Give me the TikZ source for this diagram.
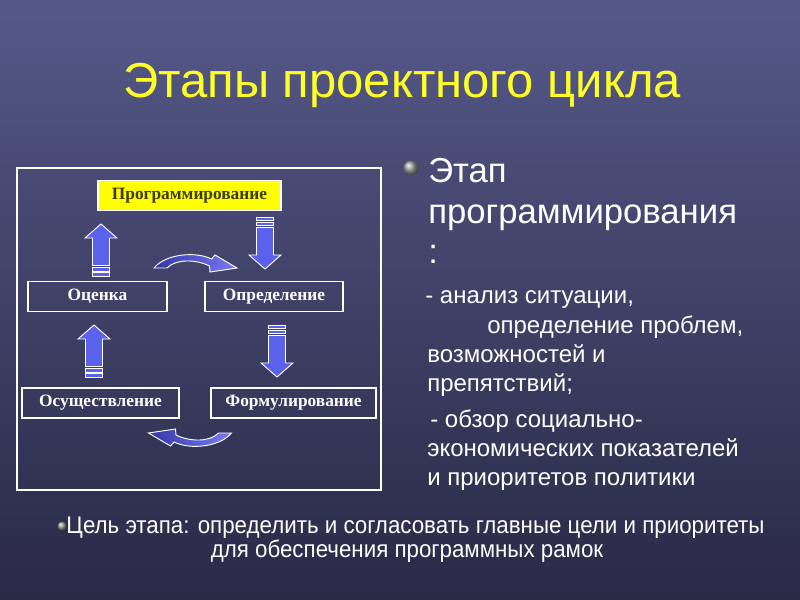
\documentclass[tikz,border=0pt]{standalone}
\usepackage{fontspec}
\setmainfont{Liberation Sans}
\newfontfamily\boxfont{Liberation Serif}
\newfontfamily\narrowfont{Liberation Sans}[FakeStretch=0.93]
\definecolor{bgtop}{RGB}{86,88,136}
\definecolor{bgbot}{RGB}{40,42,70}
\definecolor{arrowblue}{RGB}{90,98,236}
\definecolor{curvedark}{RGB}{52,54,165}
\definecolor{curvelight}{RGB}{122,122,245}
\definecolor{titleyellow}{RGB}{255,255,40}
\definecolor{progyellow}{RGB}{255,255,0}
\definecolor{progtext}{RGB}{60,60,0}
\begin{document}
\begin{tikzpicture}[x=0.75pt,y=-0.75pt,
  stagebox/.style={draw=white, line width=0.8pt, inner sep=0pt, text=white,
    font=\boxfont\bfseries\fontsize{13}{15}\selectfont, minimum height=23pt},
  progbox/.style={stagebox, fill=progyellow, text=progtext},
  titletext/.style={font=\fontsize{36.75}{44}\selectfont, anchor=base, inner sep=0pt},
  bigtext/.style={font=\fontsize{26}{31}\selectfont, text=white, anchor=base west, inner sep=0pt},
  bodytext/.style={font=\fontsize{18}{22}\selectfont, text=white, anchor=base west, inner sep=0pt},
  goaltext/.style={font=\narrowfont\fontsize{18}{22}\selectfont, text=white, anchor=base, inner sep=0pt},
  blockarrow/.style={fill=arrowblue, draw=white, line width=0.7pt, line join=miter},
  stripearrow/.pic={
    \path[blockarrow] (0,0) -- (16,14) -- (8.5,14) -- (8.5,41.5) -- (-8.5,41.5) -- (-8.5,14) -- (-16,14) -- cycle;
    \path[blockarrow] (-8.5,43.5) rectangle (8.5,47);
    \path[blockarrow] (-8.5,48.5) rectangle (8.5,52);
  },
  curvearrow/.pic={
    \shade[left color=curvedark, right color=curvelight, draw=white, line width=0.7pt]
      (-41.5,6) .. controls (-30,-8) and (0,-11) .. (16,-3) -- (19.5,-7) -- (41.5,6)
      -- (14.5,10) -- (14,4) .. controls (0,-3) and (-20,-3) .. (-28.5,6) -- cycle;
  }]
\useasboundingbox (0,0) rectangle (800,600);
\shade[top color=bgtop, bottom color=bgbot] (0,0) rectangle (800,600);

% title
\node[titletext, text=titleyellow] (title) at (402,97) {Этапы проектного цикла};

% diagram frame
\draw[white, line width=0.8pt] (17,168) rectangle (381,490);

\node[progbox, minimum width=137.25pt] (prog) at (189.5,195.5) {Программирование};
\node[stagebox, minimum width=104.25pt] (ocenka) at (97.5,296.5) {Оценка};
\node[stagebox, minimum width=103.5pt] (opred) at (274,296.5) {Определение};
\node[stagebox, minimum width=117.75pt, minimum height=22.5pt] (osush) at (100.5,403) {Осуществление};
\node[stagebox, minimum width=123.75pt, minimum height=22.5pt] (form) at (293.5,403) {Формулирование};

% block arrows
\pic at (101,224) {stripearrow};
\pic[rotate=180] at (265,269) {stripearrow};
\pic at (94,325) {stripearrow};
\pic[rotate=180] at (277,377) {stripearrow};
\pic at (195.5,262) {curvearrow};
\pic[rotate=180] at (190,439) {curvearrow};

% right-hand text
\shade[ball color=gray!75] (411,168) circle (7.5);
\node[bigtext] (t1) at (428,182) {Этап};
\node[bigtext] (t2) at (428,223) {программирования};
\node[bigtext] (t3) at (428,263) {:};
\node[bodytext] (b1) at (425,303) {- анализ ситуации,};
\node[bodytext] (b2) at (487,333) {определение проблем,};
\node[bodytext] (b3) at (427,362) {возможностей и};
\node[bodytext] (b4) at (427,391) {препятствий;};
\node[bodytext] (b5) at (430,427) {- обзор социально-};
\node[bodytext] (b6) at (427,456) {экономических показателей};
\node[bodytext] (b7) at (427,485) {и приоритетов политики};

% goal
\shade[ball color=gray!75] (62,526) circle (4.5);
\node[goaltext] (g1) at (415.5,533) {Цель этапа: определить и согласовать главные цели и приоритеты};
\node[goaltext] (g2) at (407,557) {для обеспечения программных рамок};
\end{tikzpicture}
\end{document}
